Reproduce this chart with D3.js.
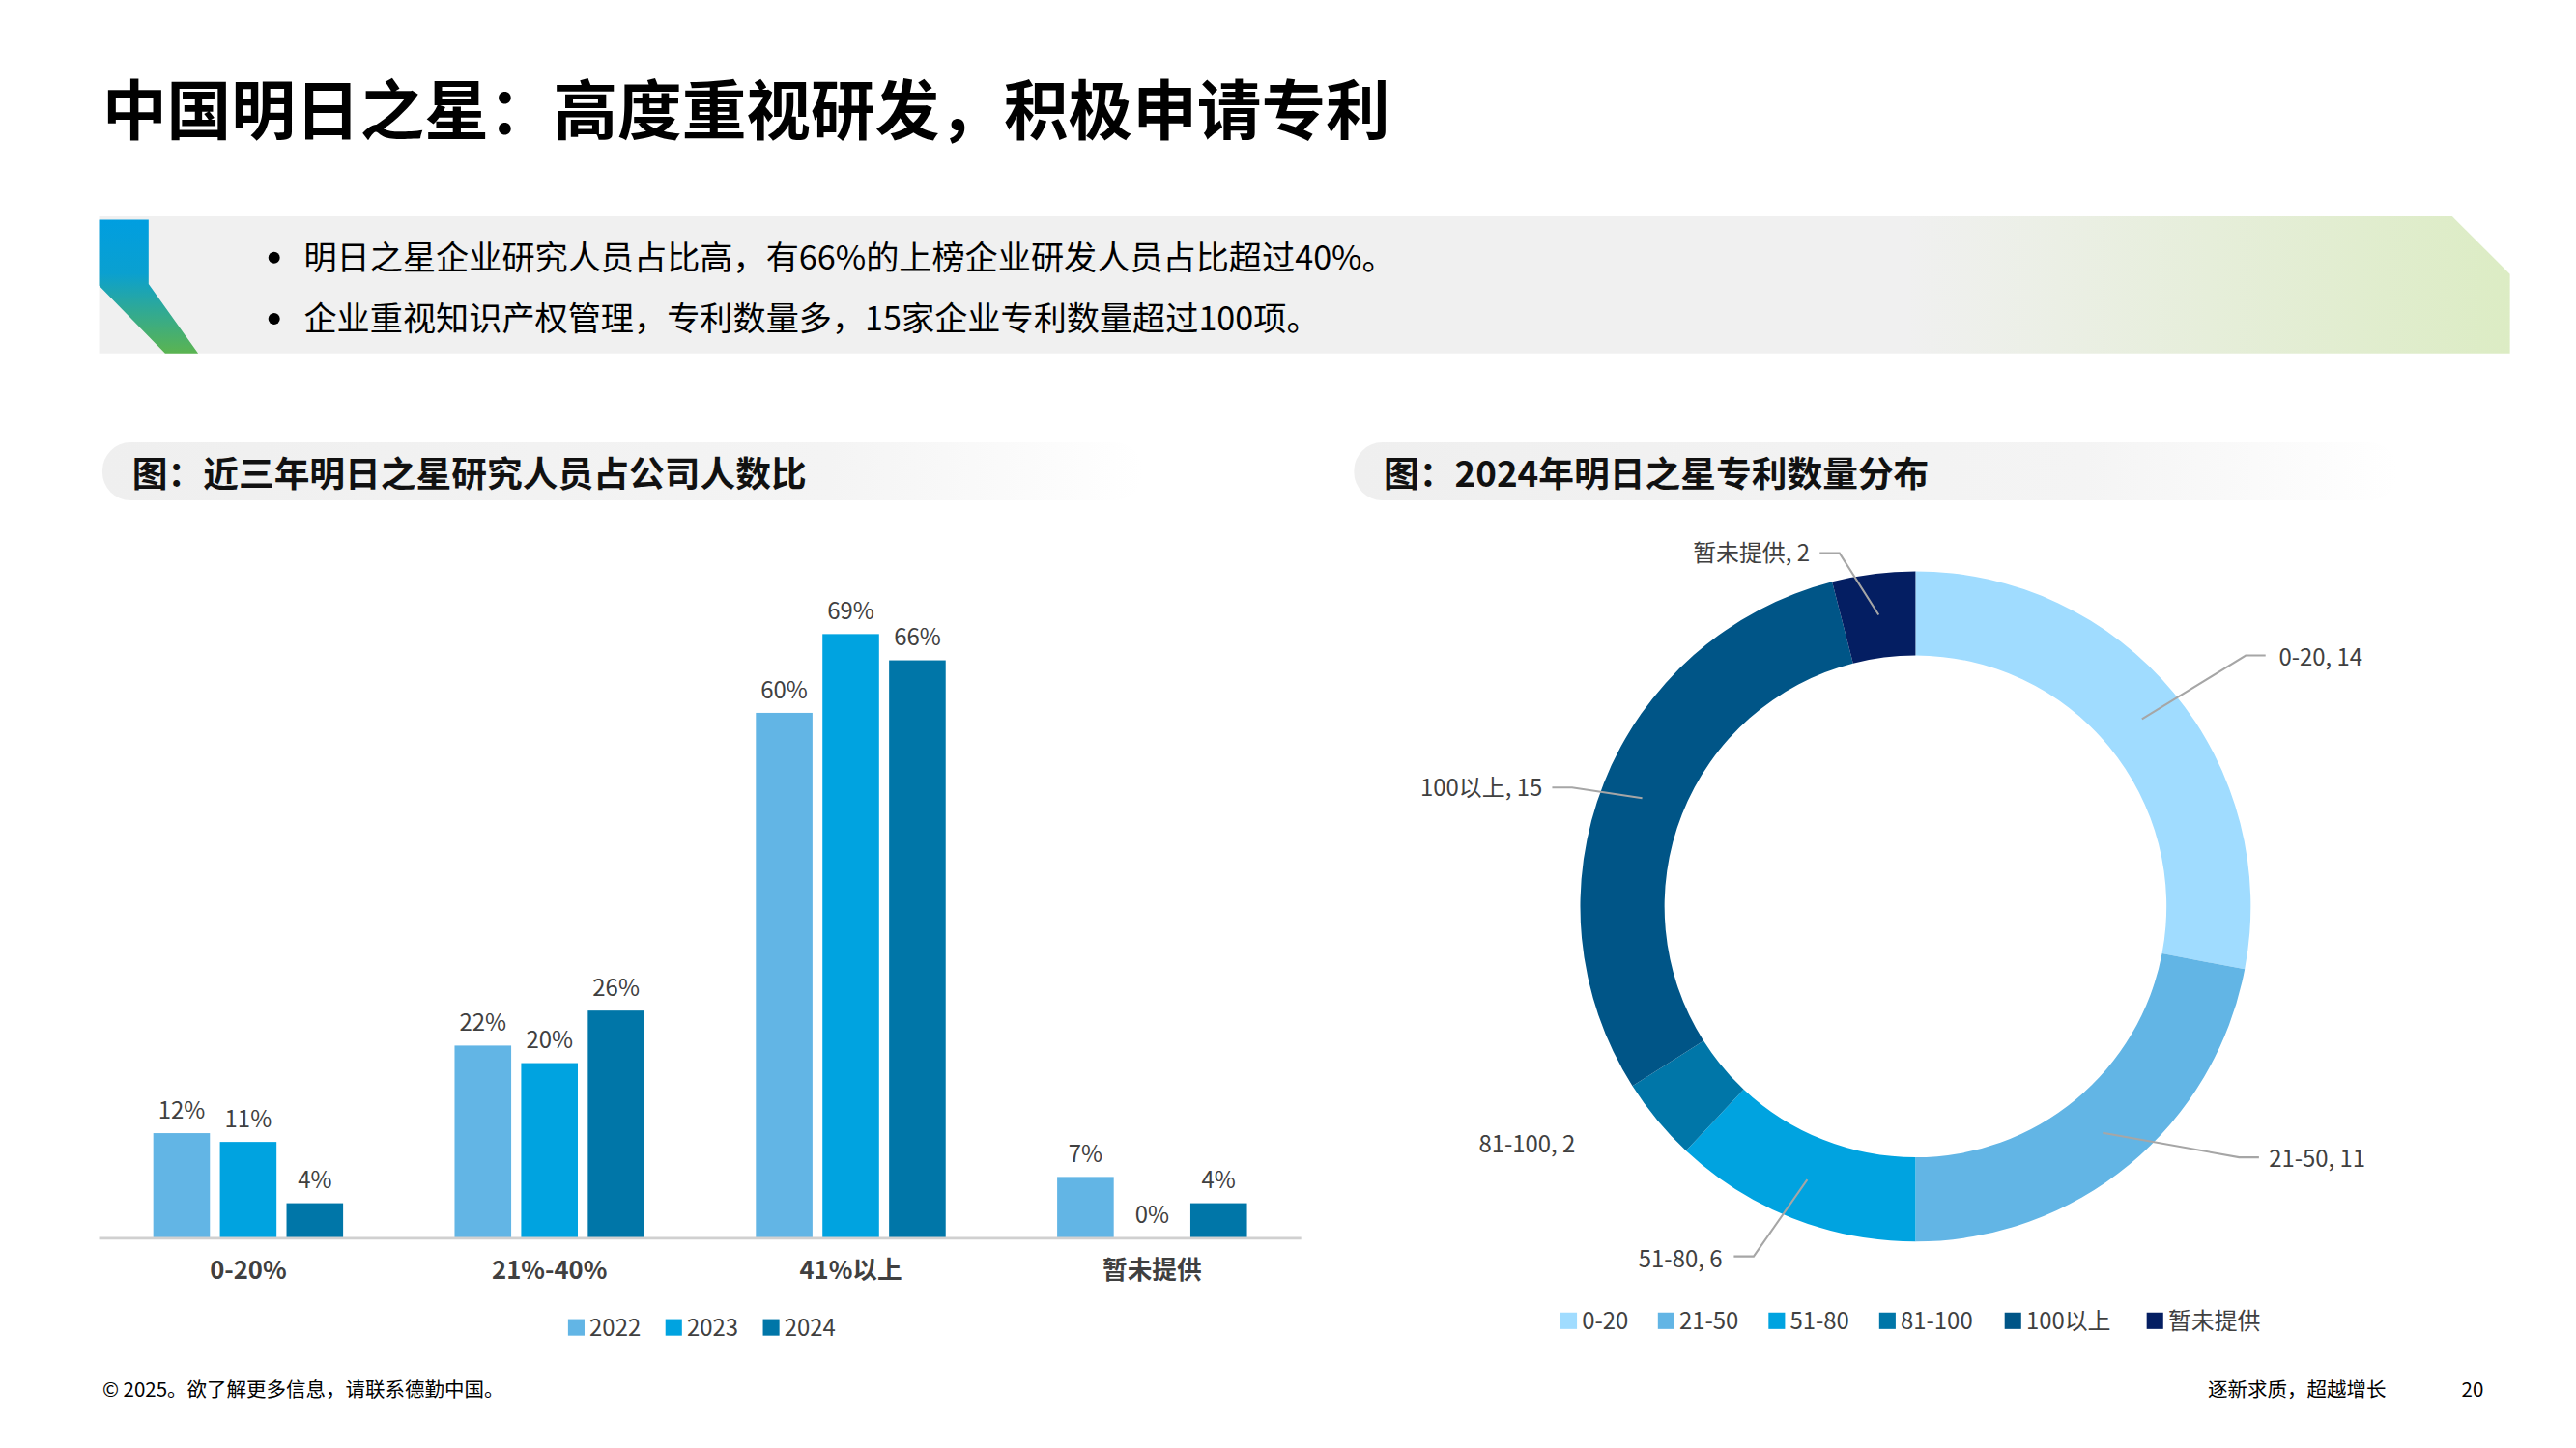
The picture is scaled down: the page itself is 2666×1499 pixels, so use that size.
<!DOCTYPE html>
<html lang="zh">
<head>
<meta charset="UTF-8">
<script src="https://d3js.org/d3.v7.min.js"></script>
<style>
  body { margin: 0; background: #fff; }
  text { font-family: "Noto Sans CJK SC", "Noto Sans", sans-serif; }
</style>
</head>
<body>
<div id="chart"></div>
<script>
// data
var barCategories = ["0-20%", "21%-40%", "41%以上", "暂未提供"];
var barYears = ["2022", "2023", "2024"];
var values2022 = [12, 22, 60, 7];
var values2023 = [11, 20, 69, 0];
var values2024 = [4, 26, 66, 4];
var barColors = ["#62b5e5", "#00a3e0", "#0076a8"];

var pieLabels = ["0-20", "21-50", "51-80", "81-100", "100以上", "暂未提供"];
var pieValues = [14, 11, 6, 2, 15, 2];
var pieColors = ["#a0dcff", "#62b5e5", "#00a3e0", "#0076a8", "#005587", "#041e62"];

var W = 1560, H = 877;
var svg = d3.select("#chart").append("svg")
  .attr("width", 2666).attr("height", 1499)
  .attr("viewBox", "0 0 " + W + " " + H);
var defs = svg.append("defs");

// title
svg.append("text").attr("x", 62).attr("y", 81)
  .attr("font-size", 39).attr("font-weight", "bold").attr("fill", "#000")
  .text("中国明日之星：高度重视研发，积极申请专利");

// banner
var bg = defs.append("linearGradient").attr("id", "banner");
bg.append("stop").attr("offset", "0%").attr("stop-color", "#f0f0f0");
bg.append("stop").attr("offset", "75%").attr("stop-color", "#f0f0f0");
bg.append("stop").attr("offset", "100%").attr("stop-color", "#dcecc4");
svg.append("path").attr("d", "M60,131 L1485,131 L1520,166 L1520,214 L60,214 Z").attr("fill", "url(#banner)");
var ag = defs.append("linearGradient").attr("id", "accent").attr("x1", 0).attr("y1", 0).attr("x2", 0).attr("y2", 1);
ag.append("stop").attr("offset", "0%").attr("stop-color", "#009ee0");
ag.append("stop").attr("offset", "40%").attr("stop-color", "#0aa0d0");
ag.append("stop").attr("offset", "100%").attr("stop-color", "#5bb450");
svg.append("path").attr("d", "M60,133 L90,133 L90,172 L120,214 L100,214 L60,173 Z").attr("fill", "url(#accent)");
var bullets = ["明日之星企业研究人员占比高，有66%的上榜企业研发人员占比超过40%。",
               "企业重视知识产权管理，专利数量多，15家企业专利数量超过100项。"];
bullets.forEach(function(b, i) {
  svg.append("circle").attr("cx", 166).attr("cy", 156 + i * 37).attr("r", 3.5).attr("fill", "#000");
  svg.append("text").attr("x", 184).attr("y", 163 + i * 37).attr("font-size", 20).attr("fill", "#000").text(b);
});

// subtitle pills
var pg = defs.append("linearGradient").attr("id", "pill");
pg.append("stop").attr("offset", "0%").attr("stop-color", "#efefef");
pg.append("stop").attr("offset", "70%").attr("stop-color", "#f4f4f4");
pg.append("stop").attr("offset", "100%").attr("stop-color", "#fff");
[[62, 630, "图：近三年明日之星研究人员占公司人数比"], [820, 632, "图：2024年明日之星专利数量分布"]].forEach(function(p) {
  svg.append("rect").attr("x", p[0]).attr("y", 268).attr("width", p[1]).attr("height", 35)
    .attr("rx", 17).attr("fill", "url(#pill)");
  svg.append("text").attr("x", p[0] + 18).attr("y", 295).attr("font-size", 21.5)
    .attr("font-weight", "bold").attr("fill", "#111").text(p[2]);
});

// bar chart
var series = [values2022, values2023, values2024];
var x0 = d3.scaleBand().domain(barCategories).range([60, 788]).paddingInner(0.37).paddingOuter(0.18);
var x1 = d3.scaleBand().domain(barYears).range([0, x0.bandwidth()]).paddingInner(0.15);
var y = d3.scaleLinear().domain([0, 69]).range([750, 384]);

var g = svg.append("g");
barCategories.forEach(function(c, ci) {
  barYears.forEach(function(yr, yi) {
    var v = series[yi][ci];
    var bx = x0(c) + x1(yr);
    g.append("rect").attr("x", bx).attr("y", y(v)).attr("width", x1.bandwidth())
      .attr("height", 750 - y(v)).attr("fill", barColors[yi]);
    g.append("text").attr("x", bx + x1.bandwidth() / 2).attr("y", y(v) - 9)
      .attr("text-anchor", "middle").attr("font-size", 14).attr("fill", "#404040").text(v + "%");
  });
});
var xAxis = g.append("g").attr("transform", "translate(0,750)")
  .call(d3.axisBottom(x0).tickSize(0).tickPadding(14));
xAxis.select(".domain").attr("stroke", "#d0d0d0").attr("stroke-width", 1.5).attr("d", "M60,0H788");
xAxis.selectAll("text").attr("font-size", 15).attr("font-weight", "bold").attr("fill", "#404040")
  .attr("font-family", "'Noto Sans CJK SC', sans-serif");

var lg = svg.append("g");
var lx = [344, 403, 462];
barYears.forEach(function(yr, i) {
  lg.append("rect").attr("x", lx[i]).attr("y", 799).attr("width", 10).attr("height", 10).attr("fill", barColors[i]);
  lg.append("text").attr("x", lx[i] + 13).attr("y", 809).attr("font-size", 14).attr("fill", "#404040").text(yr);
});

// donut
var cx = 1160, cy = 549;
var pie = d3.pie().sort(null).value(function(d) { return d; });
var arcs = pie(pieValues);
var arc = d3.arc().innerRadius(152).outerRadius(203);
var dg = svg.append("g").attr("transform", "translate(" + cx + "," + cy + ")");
dg.selectAll("path").data(arcs).enter().append("path")
  .attr("d", arc).attr("fill", function(d, i) { return pieColors[i]; });

// label anchors (relative to centre): [text x, text y, anchor, line end x, line end y]
var labelPos = [
  [220, -151, "start", 212, -152],
  [214, 153, "start", 208, 152],
  [-117, 214, "end", -110, 212],
  [-206, 144, "end", null, null],
  [-226, -72, "end", -220, -72],
  [-64, -214, "end", -58, -214]
];
var labelArc = d3.arc().innerRadius(178).outerRadius(178);
arcs.forEach(function(a, i) {
  var lp = labelPos[i];
  var c = labelArc.centroid(a);
  if (lp[3] !== null) {
    var midX = lp[2] === "start" ? lp[3] - 12 : lp[3] + 12;
    dg.append("polyline")
      .attr("points", [[c[0], c[1]], [midX, lp[4]], [lp[3], lp[4]]].map(function(p) { return p.join(","); }).join(" "))
      .attr("fill", "none").attr("stroke", "#a6a6a6").attr("stroke-width", 1.2);
  }
  dg.append("text").attr("x", lp[0]).attr("y", lp[1]).attr("text-anchor", lp[2])
    .attr("font-size", 14).attr("fill", "#404040").attr("dy", "0.35em")
    .text(pieLabels[i] + ", " + pieValues[i]);
});

var pl = svg.append("g");
var plx = [945, 1004, 1071, 1138, 1214, 1300];
pieLabels.forEach(function(l, i) {
  pl.append("rect").attr("x", plx[i]).attr("y", 795).attr("width", 10).attr("height", 10).attr("fill", pieColors[i]);
  pl.append("text").attr("x", plx[i] + 13).attr("y", 805).attr("font-size", 14).attr("fill", "#404040").text(l);
});

// footer
svg.append("text").attr("x", 62).attr("y", 846).attr("font-size", 12).attr("fill", "#000")
  .text("© 2025。欲了解更多信息，请联系德勤中国。");
svg.append("text").attr("x", 1445).attr("y", 846).attr("font-size", 12).attr("fill", "#000")
  .attr("text-anchor", "end").text("逐新求质，超越增长");
svg.append("text").attr("x", 1504).attr("y", 846).attr("font-size", 12).attr("fill", "#000")
  .attr("text-anchor", "end").text("20");
</script>
</body>
</html>
